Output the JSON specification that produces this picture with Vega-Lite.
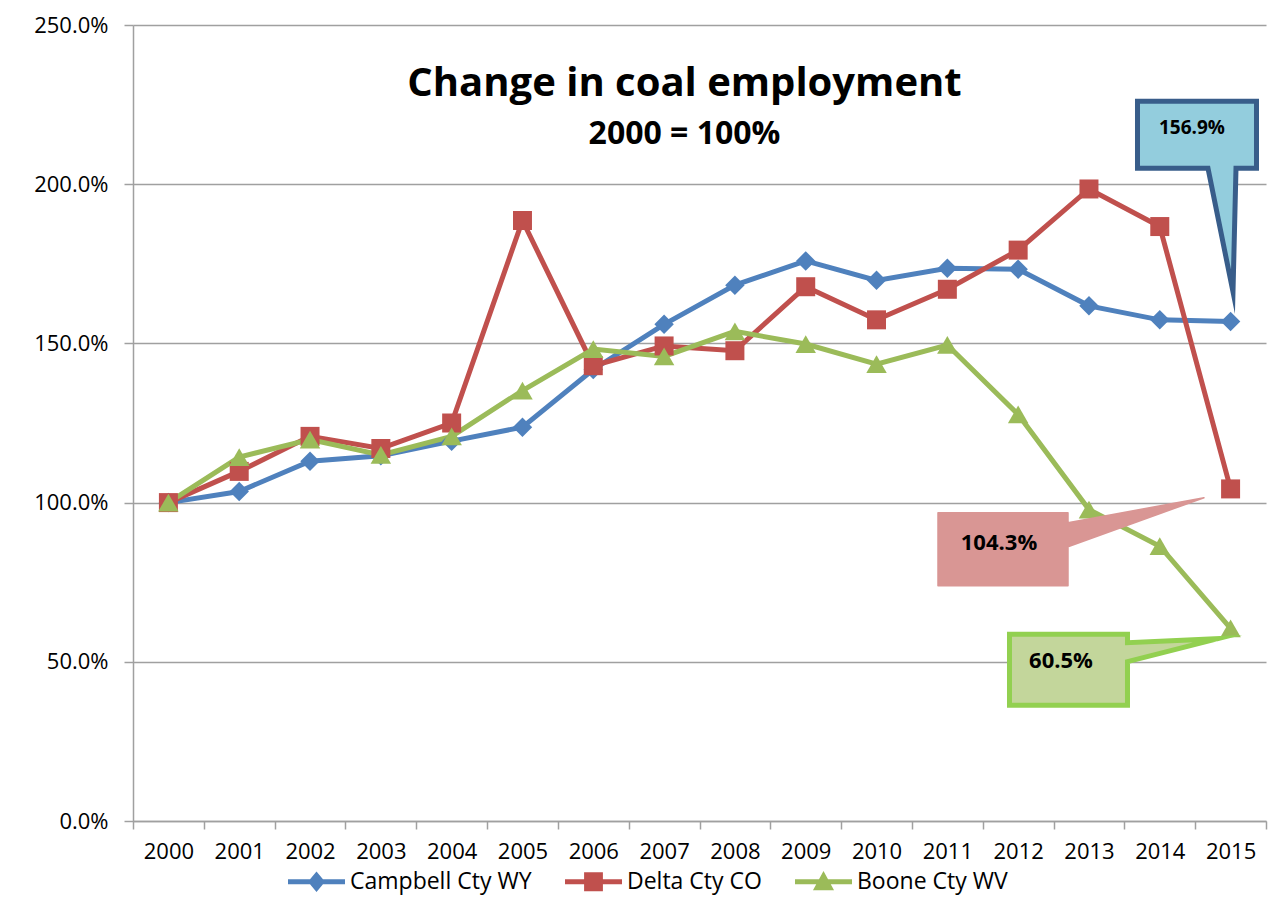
{
  "$schema": "https://vega.github.io/schema/vega-lite/v6.json",
  "width": 1133,
  "height": 796,
  "autosize": "none",
  "padding": {"left": 133, "top": 25, "right": 18, "bottom": 80},
  "background": "white",
  "config": {
    "font": "Open Sans",
    "view": {"stroke": null}
  },
  "title": {
    "text": "Change in coal employment",
    "subtitle": "2000 = 100%",
    "font": "Open Sans",
    "fontSize": 40,
    "fontWeight": "bold",
    "color": "black",
    "subtitleFont": "Open Sans",
    "subtitleFontSize": 32,
    "subtitleFontWeight": "bold",
    "subtitleColor": "black",
    "subtitlePadding": 15,
    "anchor": "middle",
    "frame": "group",
    "offset": -136,
    "dx": -15
  },
  "data": {
    "values": [
      {"year": "2000", "series": "Campbell Cty WY", "value": 100},
      {"year": "2001", "series": "Campbell Cty WY", "value": 103.5},
      {"year": "2002", "series": "Campbell Cty WY", "value": 113},
      {"year": "2003", "series": "Campbell Cty WY", "value": 114.7},
      {"year": "2004", "series": "Campbell Cty WY", "value": 119.3},
      {"year": "2005", "series": "Campbell Cty WY", "value": 123.7},
      {"year": "2006", "series": "Campbell Cty WY", "value": 141.8},
      {"year": "2007", "series": "Campbell Cty WY", "value": 156},
      {"year": "2008", "series": "Campbell Cty WY", "value": 168.3},
      {"year": "2009", "series": "Campbell Cty WY", "value": 175.9},
      {"year": "2010", "series": "Campbell Cty WY", "value": 169.8},
      {"year": "2011", "series": "Campbell Cty WY", "value": 173.6},
      {"year": "2012", "series": "Campbell Cty WY", "value": 173.3},
      {"year": "2013", "series": "Campbell Cty WY", "value": 161.8},
      {"year": "2014", "series": "Campbell Cty WY", "value": 157.4},
      {"year": "2015", "series": "Campbell Cty WY", "value": 156.9},
      {"year": "2000", "series": "Delta Cty CO", "value": 100},
      {"year": "2001", "series": "Delta Cty CO", "value": 109.8},
      {"year": "2002", "series": "Delta Cty CO", "value": 120.8},
      {"year": "2003", "series": "Delta Cty CO", "value": 117},
      {"year": "2004", "series": "Delta Cty CO", "value": 125},
      {"year": "2005", "series": "Delta Cty CO", "value": 188.6},
      {"year": "2006", "series": "Delta Cty CO", "value": 143},
      {"year": "2007", "series": "Delta Cty CO", "value": 149.2},
      {"year": "2008", "series": "Delta Cty CO", "value": 147.7},
      {"year": "2009", "series": "Delta Cty CO", "value": 167.8},
      {"year": "2010", "series": "Delta Cty CO", "value": 157.4},
      {"year": "2011", "series": "Delta Cty CO", "value": 167},
      {"year": "2012", "series": "Delta Cty CO", "value": 179.3},
      {"year": "2013", "series": "Delta Cty CO", "value": 198.5},
      {"year": "2014", "series": "Delta Cty CO", "value": 186.7},
      {"year": "2015", "series": "Delta Cty CO", "value": 104.3},
      {"year": "2000", "series": "Boone Cty WV", "value": 100},
      {"year": "2001", "series": "Boone Cty WV", "value": 114.3},
      {"year": "2002", "series": "Boone Cty WV", "value": 119.8},
      {"year": "2003", "series": "Boone Cty WV", "value": 115},
      {"year": "2004", "series": "Boone Cty WV", "value": 120.8},
      {"year": "2005", "series": "Boone Cty WV", "value": 135.2},
      {"year": "2006", "series": "Boone Cty WV", "value": 148.2},
      {"year": "2007", "series": "Boone Cty WV", "value": 145.9},
      {"year": "2008", "series": "Boone Cty WV", "value": 153.8},
      {"year": "2009", "series": "Boone Cty WV", "value": 149.8},
      {"year": "2010", "series": "Boone Cty WV", "value": 143.5},
      {"year": "2011", "series": "Boone Cty WV", "value": 149.5},
      {"year": "2012", "series": "Boone Cty WV", "value": 127.7},
      {"year": "2013", "series": "Boone Cty WV", "value": 97.8},
      {"year": "2014", "series": "Boone Cty WV", "value": 86.3},
      {"year": "2015", "series": "Boone Cty WV", "value": 60.5}
    ]
  },
  "encoding": {
    "x": {
      "field": "year",
      "type": "ordinal",
      "bandPosition": 0.5,
      "scale": {"type": "band", "paddingInner": 0, "paddingOuter": 0},
      "axis": {
        "title": null,
        "labelAngle": 0,
        "tickBand": "extent",
        "tickSize": 8,
        "tickColor": "#A0A0A0",
        "tickWidth": 1.5,
        "domainColor": "#A0A0A0",
        "domainWidth": 1.5,
        "labelFont": "Open Sans",
        "labelFontSize": 22,
        "labelColor": "black",
        "labelPadding": 12,
        "grid": false
      }
    },
    "y": {
      "field": "value",
      "type": "quantitative",
      "scale": {"domain": [0, 250], "nice": false, "zero": true},
      "axis": {
        "title": null,
        "values": [0, 50, 100, 150, 200, 250],
        "labelExpr": "format(datum.value, '.1f') + '%'",
        "grid": true,
        "gridColor": "#A0A0A0",
        "gridWidth": 1.5,
        "tickSize": 9,
        "tickColor": "#A0A0A0",
        "tickWidth": 1.5,
        "domainColor": "#A0A0A0",
        "domainWidth": 1.5,
        "labelFont": "Open Sans",
        "labelFontSize": 22,
        "labelColor": "black",
        "labelPadding": 16
      }
    }
  },
  "layer": [
    {
      "mark": {"type": "line", "strokeWidth": 5},
      "encoding": {
        "color": {
          "field": "series",
          "type": "nominal",
          "scale": {
            "domain": ["Campbell Cty WY", "Delta Cty CO", "Boone Cty WV"],
            "range": ["#4F81BD", "#C0504D", "#9BBB59"]
          },
          "legend": {
            "title": null,
            "orient": "none",
            "legendX": 155,
            "legendY": 828,
            "direction": "horizontal",
            "padding": 0,
            "labelFont": "Open Sans",
            "labelFontSize": 23,
            "labelColor": "black",
            "labelLimit": 0,
            "labelOffset": 5,
            "columnPadding": 33,
            "symbolSize": 3249,
            "symbolStrokeWidth": 0,
            "symbolType": "M-1,-0.09L1,-0.09L1,0.09L-1,0.09Z",
            "encode": {
              "symbols": {
                "update": {
                  "shape": {"signal": "datum.value == 'Campbell Cty WY' ? 'M-1,-0.09L1,-0.09L1,0.09L-1,0.09Z M0,-0.36L0.3,0L0,0.36L-0.3,0Z' : datum.value == 'Delta Cty CO' ? 'M-1,-0.09L1,-0.09L1,0.09L-1,0.09Z M-0.33,-0.33L0.33,-0.33L0.33,0.33L-0.33,0.33Z' : 'M-1,-0.09L1,-0.09L1,0.09L-1,0.09Z M0,-0.38L0.37,0.3L-0.37,0.3Z'"},
                  "fill": {"scale": "color", "field": "value"},
                  "stroke": {"value": "transparent"},
                  "strokeWidth": {"value": 0},
                  "opacity": {"value": 1}
                }
              }
            }
          }
        }
      }
    },
    {
      "transform": [{"filter": "datum.series == 'Campbell Cty WY'"}],
      "mark": {"type": "point", "filled": true, "opacity": 1, "strokeWidth": 0, "shape": "diamond", "size": 380, "color": "#4F81BD"}
    },
    {
      "transform": [{"filter": "datum.series == 'Delta Cty CO'"}],
      "mark": {"type": "point", "filled": true, "opacity": 1, "strokeWidth": 0, "shape": "square", "size": 361, "color": "#C0504D"}
    },
    {
      "transform": [{"filter": "datum.series == 'Boone Cty WV'"}],
      "mark": {"type": "point", "filled": true, "opacity": 1, "strokeWidth": 0, "shape": "triangle-up", "size": 420, "color": "#9BBB59"}
    },
    {
      "transform": [{"filter": "datum.series == 'Campbell Cty WY' && datum.year == '2015'"}],
      "mark": {
        "type": "point",
        "filled": true,
        "opacity": 1,
        "size": 40000,
        "shape": "M-0.931,-2.201L0.259,-2.201L0.259,-1.531L0.054,-1.531L0.024,-0.296L-0.226,-1.531L-0.931,-1.531Z",
        "fill": "#93CDDD",
        "stroke": "#385D8A",
        "strokeWidth": 5,
        "strokeJoin": "miter",
        "strokeMiterLimit": 20
      }
    },
    {
      "transform": [{"filter": "datum.series == 'Delta Cty CO' && datum.year == '2015'"}],
      "mark": {
        "type": "point",
        "filled": true,
        "opacity": 1,
        "size": 40000,
        "shape": "M-2.926,0.238L-1.626,0.238L-1.626,0.338L-0.266,0.088L-1.626,0.578L-1.626,0.968L-2.926,0.968Z",
        "fill": "#D99694",
        "stroke": "#D99694",
        "strokeWidth": 1.5,
        "strokeJoin": "round"
      }
    },
    {
      "transform": [{"filter": "datum.series == 'Boone Cty WV' && datum.year == '2015'"}],
      "mark": {
        "type": "point",
        "filled": true,
        "opacity": 1,
        "size": 40000,
        "shape": "M-2.211,0.058L-1.031,0.058L-1.031,0.143L-0.126,0.103L-1.031,0.333L-1.031,0.768L-2.211,0.768Z",
        "fill": "#C3D69B",
        "stroke": "#92D050",
        "strokeWidth": 5,
        "strokeJoin": "miter",
        "strokeMiterLimit": 20
      }
    },
    {
      "transform": [{"filter": "datum.series == 'Campbell Cty WY' && datum.year == '2015'"}],
      "mark": {"type": "text", "font": "Open Sans", "fontWeight": "bold", "fontSize": 19, "color": "black", "align": "center", "baseline": "middle", "dx": -38.6, "dy": -193.6},
      "encoding": {"text": {"value": "156.9%"}}
    },
    {
      "transform": [{"filter": "datum.series == 'Delta Cty CO' && datum.year == '2015'"}],
      "mark": {"type": "text", "font": "Open Sans", "fontWeight": "bold", "fontSize": 22, "color": "black", "align": "center", "baseline": "middle", "dx": -231.6, "dy": 53.8},
      "encoding": {"text": {"value": "104.3%"}}
    },
    {
      "transform": [{"filter": "datum.series == 'Boone Cty WV' && datum.year == '2015'"}],
      "mark": {"type": "text", "font": "Open Sans", "fontWeight": "bold", "fontSize": 22, "color": "black", "align": "center", "baseline": "middle", "dx": -169.6, "dy": 32.3},
      "encoding": {"text": {"value": "60.5%"}}
    }
  ]
}
